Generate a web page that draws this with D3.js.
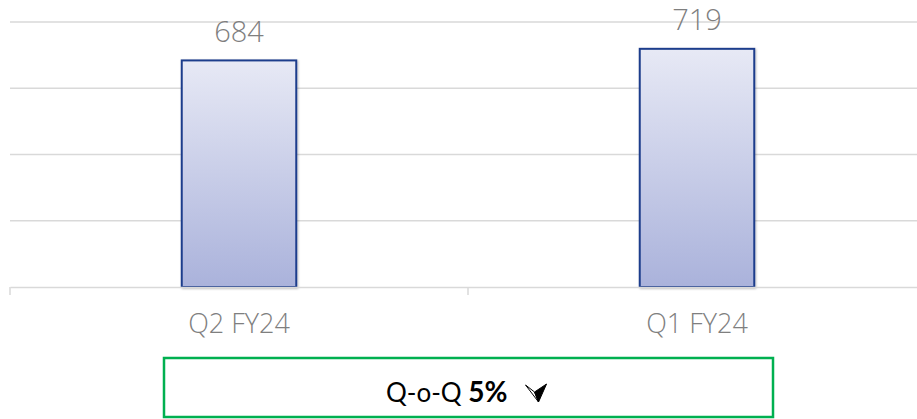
<!DOCTYPE html>
<html>
<head>
<meta charset="utf-8">
<script src="https://cdn.jsdelivr.net/npm/d3@7"></script>
<style>
  body { margin: 0; background: #fff; }
  svg { display: block; }
</style>
</head>
<body>
<script>
'use strict';

let categories = ["Q2 FY24", "Q1 FY24"];
let values = [684, 719];
let yTicks = [0, 200, 400, 600, 800];
let changeLabel = "Q-o-Q";
let changeValue = "5%";

(function () {
  let width = 917, height = 419;

  let svg = d3.select("body")
    .append("svg")
    .attr("width", width)
    .attr("height", height);

  let defs = svg.append("defs");
  let grad = defs.append("linearGradient")
    .attr("id", "barFill")
    .attr("x1", 0).attr("y1", 0).attr("x2", 0).attr("y2", 1);
  grad.append("stop").attr("offset", "0%").attr("stop-color", "#e7e9f5");
  grad.append("stop").attr("offset", "100%").attr("stop-color", "#aab2db");

  let shadow = defs.append("filter").attr("id", "shadow")
    .attr("x", "-10%").attr("y", "-10%").attr("width", "130%").attr("height", "130%");
  shadow.append("feDropShadow")
    .attr("dx", 1).attr("dy", 1).attr("stdDeviation", 1.2)
    .attr("flood-color", "#000").attr("flood-opacity", 0.25);

  // scales
  let xScale = d3.scaleBand()
    .domain(categories)
    .range([10, 926])
    .paddingInner(0)
    .paddingOuter(0);

  let yScale = d3.scaleLinear()
    .domain([0, 800])
    .range([287, 22]);

  // gridlines
  svg.append("g")
    .selectAll("line")
    .data(yTicks.filter((d) => d > 0))
    .enter()
    .append("line")
    .attr("x1", 10)
    .attr("x2", width)
    .attr("y1", (d) => yScale(d))
    .attr("y2", (d) => yScale(d))
    .attr("stroke", "#d9d9d9")
    .attr("stroke-width", 1.5);

  // bars
  let barW = xScale.bandwidth() * 0.25;
  svg.append("g")
    .selectAll("rect")
    .data(values)
    .enter()
    .append("rect")
    .attr("x", (d, i) => xScale(categories[i]) + xScale.bandwidth() / 2 - barW / 2)
    .attr("y", (d) => yScale(d))
    .attr("width", barW)
    .attr("height", (d) => yScale(0) - yScale(d))
    .attr("fill", "url(#barFill)")
    .attr("stroke", "#1f3e8c")
    .attr("stroke-width", 2)
    .attr("filter", "url(#shadow)");

  // x axis
  let xAxis = d3.axisBottom(xScale).tickSize(0).tickPadding(0);
  let gx = svg.append("g")
    .attr("transform", "translate(0, " + yScale(0) + ")")
    .call(xAxis);
  gx.select(".domain").attr("stroke", "#d9d9d9").attr("stroke-width", 1.5);
  gx.selectAll("text")
    .attr("dy", 0)
    .attr("y", 46)
    .style("font-family", "'Open Sans', sans-serif")
    .style("font-size", "27px")
    .style("font-weight", 300)
    .attr("fill", "#7f7f7f");
  // category boundary ticks
  gx.selectAll(".bound")
    .data(categories)
    .enter()
    .append("line")
    .attr("x1", (d) => xScale(d))
    .attr("x2", (d) => xScale(d))
    .attr("y1", 0)
    .attr("y2", 8)
    .attr("stroke", "#d9d9d9")
    .attr("stroke-width", 1.5);

  // value labels
  svg.append("g")
    .selectAll("text")
    .data(values)
    .enter()
    .append("text")
    .attr("x", (d, i) => xScale(categories[i]) + xScale.bandwidth() / 2)
    .attr("y", (d) => yScale(d) - 18.5)
    .attr("text-anchor", "middle")
    .style("font-family", "'Open Sans', sans-serif")
    .style("font-size", "29px")
    .style("font-weight", 300)
    .attr("fill", "#7f7f7f")
    .text((d) => d);

  // Q-o-Q box
  svg.append("rect")
    .attr("x", 164)
    .attr("y", 358)
    .attr("width", 609)
    .attr("height", 59)
    .attr("fill", "#fff")
    .attr("stroke", "#00b050")
    .attr("stroke-width", 2.5);

  let t = svg.append("text")
    .attr("x", 386)
    .attr("y", 402)
    .style("font-family", "Lato, sans-serif")
    .attr("fill", "#000");
  t.append("tspan").style("font-size", "26px").text(changeLabel + " ");
  t.append("tspan").style("font-size", "28px").style("font-weight", "bold").text(changeValue);

  // down arrow marker, placed after the text
  let tEnd = 386 + t.node().getComputedTextLength();
  let ax = tEnd + 31, ay = 402;
  let arrow = svg.append("g").attr("transform", "translate(" + ax + "," + ay + ")");
  arrow.append("path")
    .attr("d", "M0,0 L-13,-17 L-4,-10 Z")
    .attr("fill", "#fff")
    .attr("stroke", "#000")
    .attr("stroke-width", 1);
  arrow.append("path")
    .attr("d", "M0,0 L-4,-10 L8,-18 Z")
    .attr("fill", "#000")
    .attr("stroke", "#000")
    .attr("stroke-width", 1);
})();
</script>
</body>
</html>
